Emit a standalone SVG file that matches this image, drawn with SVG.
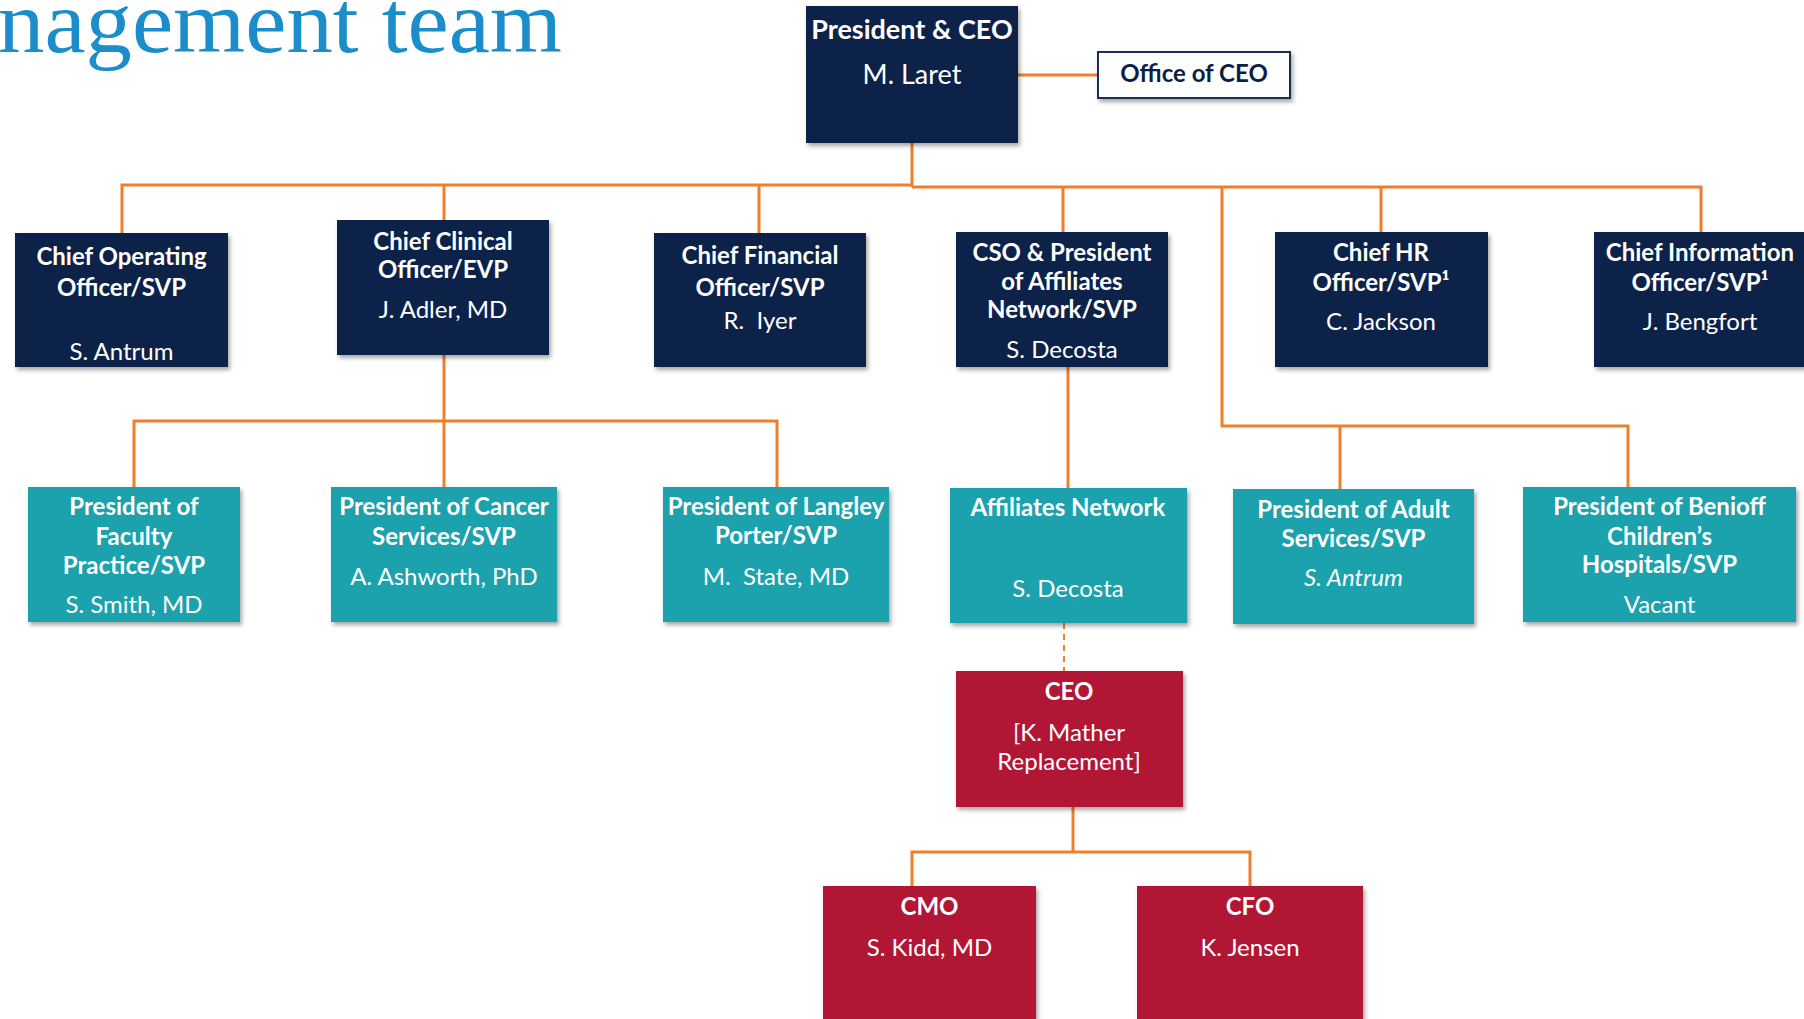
<svg xmlns="http://www.w3.org/2000/svg" width="1804" height="1019" viewBox="0 0 1804 1019">
<defs>
<filter id="sh" x="-10%" y="-10%" width="130%" height="130%">
<feDropShadow dx="2" dy="3" stdDeviation="2" flood-color="#000" flood-opacity="0.35"/>
</filter>
<style>
.navy{fill:#08204a;filter:url(#sh)}
.teal{fill:#1ba2ad;filter:url(#sh)}
.red{fill:#b21236;filter:url(#sh)}
.office{fill:#fff;stroke:#1d2f52;stroke-width:2;filter:url(#sh)}
text{font-family:Lato,"Open Sans","Liberation Sans",sans-serif;font-size:24px;fill:#fff;text-anchor:middle}
.b{font-weight:bold}
.big{font-size:27px}
.it{font-style:italic}
.dark{fill:#0b1f45}
.ln{fill:none;stroke:#ef7f2a;stroke-width:3}
.dash{fill:none;stroke:#ef7f2a;stroke-width:2;stroke-dasharray:6 5}
.title{font-family:"Liberation Serif","DejaVu Serif",serif;font-size:88px;fill:#1b8dcb;text-anchor:start}
</style>
</defs>
<rect width="1804" height="1019" fill="#fff"/>
<text class="title" x="-2" y="52" textLength="564" lengthAdjust="spacingAndGlyphs">nagement team</text>

<g id="connectors">
<path class="ln" d="M1018 75 H1098"/>
<path class="ln" d="M912 143 V187"/>
<path class="ln" d="M122 233 V185 H912"/>
<path class="ln" d="M912 187 H1701 V232"/>
<path class="ln" d="M444 185 V220"/>
<path class="ln" d="M759 185 V233"/>
<path class="ln" d="M1063 187 V232"/>
<path class="ln" d="M1381 187 V232"/>
<path class="ln" d="M1222 187 V426 H1628 V487"/>
<path class="ln" d="M1340 426 V489"/>
<path class="ln" d="M444 355 V487"/>
<path class="ln" d="M134 487 V421 H777 V487"/>
<path class="ln" d="M1068 367 V488"/>
<path class="dash" d="M1064 623 V671"/>
<path class="ln" d="M1073 807 V852"/>
<path class="ln" d="M912 886 V852 H1250 V886"/>
</g>

<g id="president">
<rect class="navy" x="806" y="6" width="212" height="137"/>
<text class="b big" x="912" y="39">President &amp; CEO</text>
<text class="big" x="912" y="84">M. Laret</text>
</g>
<g id="office">
<rect class="office" x="1098" y="52" width="192" height="46"/>
<text class="b dark" x="1194" y="82">Office of CEO</text>
</g>

<g id="coo">
<rect class="navy" x="15" y="233" width="213" height="134"/>
<text class="b" x="121.5" y="265">Chief Operating</text>
<text class="b" x="121.5" y="296">Officer/SVP</text>
<text x="121.5" y="360">S. Antrum</text>
</g>
<g id="cco">
<rect class="navy" x="337" y="220" width="212" height="135"/>
<text class="b" x="443" y="250">Chief Clinical</text>
<text class="b" x="443" y="278">Officer/EVP</text>
<text x="443" y="318">J. Adler, MD</text>
</g>
<g id="cfo">
<rect class="navy" x="654" y="233" width="212" height="134"/>
<text class="b" x="760" y="264">Chief Financial</text>
<text class="b" x="760" y="296">Officer/SVP</text>
<text x="760" y="329" xml:space="preserve">R.  Iyer</text>
</g>
<g id="cso">
<rect class="navy" x="956" y="232" width="212" height="135"/>
<text class="b" x="1062" y="261">CSO &amp; President</text>
<text class="b" x="1062" y="290">of Affiliates</text>
<text class="b" x="1062" y="318">Network/SVP</text>
<text x="1062" y="358">S. Decosta</text>
</g>
<g id="chro">
<rect class="navy" x="1275" y="232" width="213" height="135"/>
<text class="b" x="1381" y="261">Chief HR</text>
<text class="b" x="1381" y="291">Officer/SVP¹</text>
<text x="1381" y="330">C. Jackson</text>
</g>
<g id="cio">
<rect class="navy" x="1594" y="232" width="213" height="135"/>
<text class="b" x="1700" y="261">Chief Information</text>
<text class="b" x="1700" y="291">Officer/SVP¹</text>
<text x="1700" y="330">J. Bengfort</text>
</g>

<g id="faculty">
<rect class="teal" x="28" y="487" width="212" height="135"/>
<text class="b" x="134" y="515">President of</text>
<text class="b" x="134" y="545">Faculty</text>
<text class="b" x="134" y="574">Practice/SVP</text>
<text x="134" y="613">S. Smith, MD</text>
</g>
<g id="cancer">
<rect class="teal" x="331" y="487" width="226" height="135"/>
<text class="b" x="444" y="515">President of Cancer</text>
<text class="b" x="444" y="545">Services/SVP</text>
<text x="444" y="585">A. Ashworth, PhD</text>
</g>
<g id="langley">
<rect class="teal" x="663" y="487" width="226" height="135"/>
<text class="b" x="776" y="515">President of Langley</text>
<text class="b" x="776" y="544">Porter/SVP</text>
<text x="776" y="585" xml:space="preserve">M.  State, MD</text>
</g>
<g id="affiliates">
<rect class="teal" x="950" y="488" width="237" height="135"/>
<text class="b" x="1068" y="516">Affiliates Network</text>
<text x="1068" y="597">S. Decosta</text>
</g>
<g id="adult">
<rect class="teal" x="1233" y="489" width="241" height="135"/>
<text class="b" x="1353.5" y="518">President of Adult</text>
<text class="b" x="1353.5" y="547">Services/SVP</text>
<text class="it" x="1353.5" y="586">S. Antrum</text>
</g>
<g id="benioff">
<rect class="teal" x="1523" y="487" width="273" height="135"/>
<text class="b" x="1659.5" y="515">President of Benioff</text>
<text class="b" x="1659.5" y="545">Children’s</text>
<text class="b" x="1659.5" y="573">Hospitals/SVP</text>
<text x="1659.5" y="613">Vacant</text>
</g>

<g id="ceo">
<rect class="red" x="956" y="671" width="227" height="136"/>
<text class="b" x="1069" y="700">CEO</text>
<text x="1069" y="741">[K. Mather</text>
<text x="1069" y="770">Replacement]</text>
</g>
<g id="cmo">
<rect class="red" x="823" y="886" width="213" height="145"/>
<text class="b" x="929.5" y="915">CMO</text>
<text x="929.5" y="956">S. Kidd, MD</text>
</g>
<g id="cfo2">
<rect class="red" x="1137" y="886" width="226" height="145"/>
<text class="b" x="1250" y="915">CFO</text>
<text x="1250" y="956">K. Jensen</text>
</g>
</svg>
